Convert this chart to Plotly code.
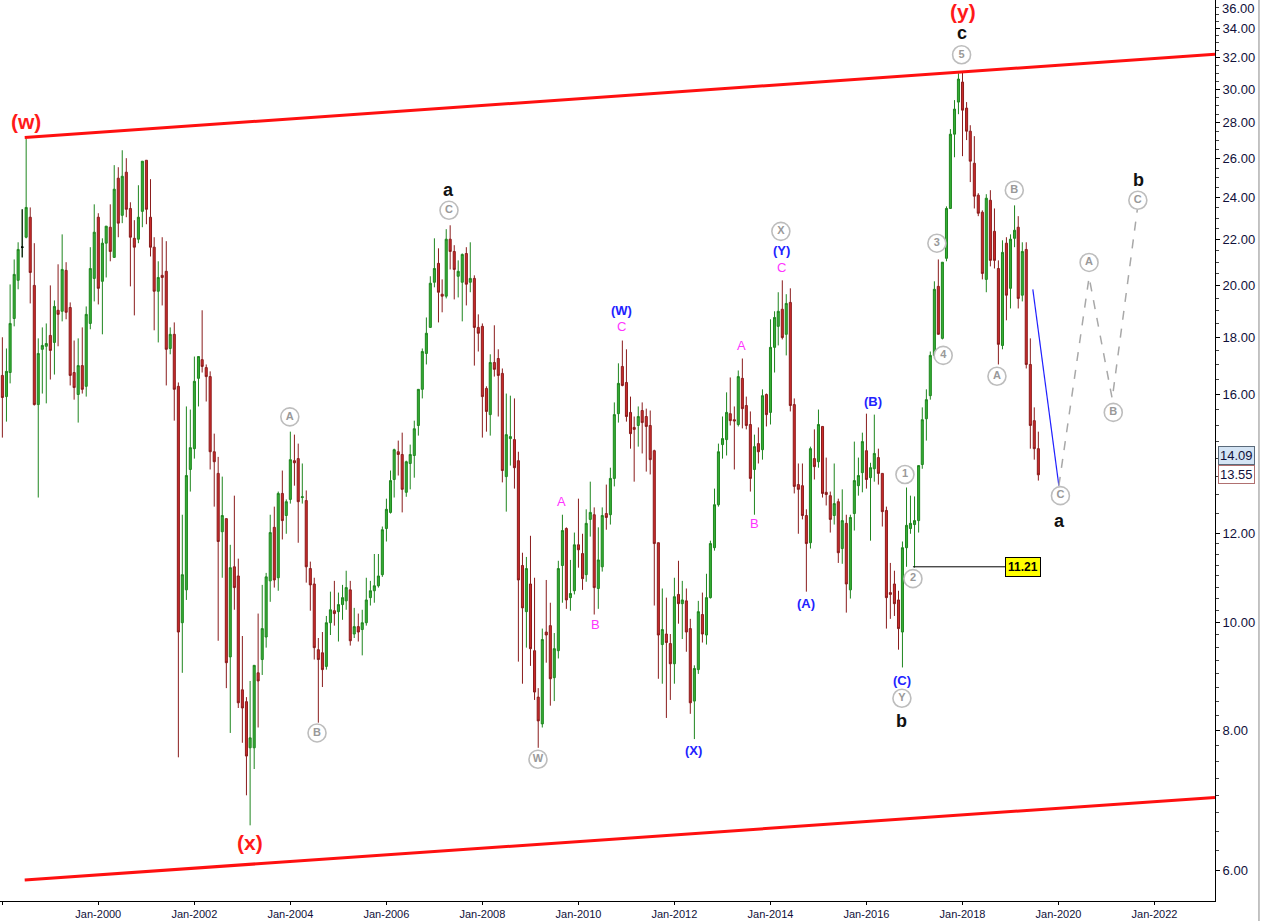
import math
import plotly.graph_objects as go
import pandas as pd

# Monthly candles, Jan-1998 .. Aug-2019
start_month = "1998-01-01"
opens = [16.63,15.92,16.73,18.70,20.23,21.66,22.11,23.04,20.02,15.66,17.55,17.66,
 18.06,17.80,19.02,18.98,20.65,19.13,16.73,15.99,16.97,16.26,18.51,20.31,
 23.04,20.19,21.84,22.57,21.21,24.97,23.13,25.28,23.46,22.06,22.02,23.32,
 25.91,23.04,21.66,19.78,20.44,20.61,17.58,18.10,16.26,9.99,10.69,13.70,
 14.30,16.53,17.18,16.90,16.59,14.21,13.59,12.05,12.38,9.31,11.21,11.00,
 8.70,8.49,7.72,7.72,9.01,9.26,9.70,10.89,12.16,10.96,13.04,12.46,
 12.88,13.95,14.01,12.93,12.85,11.17,10.82,9.45,9.39,9.13,9.99,10.24,
 10.22,10.37,10.45,10.69,9.76,9.91,9.85,9.99,10.52,10.67,10.78,11.03,
 12.13,12.54,13.42,14.21,14.13,13.07,13.87,14.10,15.00,16.16,17.40,18.36,
 20.15,20.95,19.66,19.58,22.02,21.47,20.40,20.15,21.38,20.15,20.31,18.36,
 18.40,16.19,15.34,17.08,17.22,16.70,13.50,14.60,14.57,13.95,11.24,10.22,
 10.82,9.43,8.57,8.11,9.80,9.93,8.92,9.43,11.24,12.13,10.52,10.67,
 11.73,11.52,11.03,12.36,12.48,10.72,11.21,12.51,12.48,13.45,15.37,16.94,
 16.39,15.41,14.94,15.00,15.47,15.28,15.00,14.24,11.78,9.55,9.76,9.57,
 9.18,10.59,10.39,10.45,9.87,8.50,9.07,10.16,9.74,10.52,11.66,12.74,
 14.42,14.57,15.37,15.18,15.03,16.53,15.63,15.03,13.70,14.45,14.27,15.99,
 15.41,17.62,18.40,19.06,18.10,19.33,15.66,13.28,13.25,12.46,11.78,14.01,
 13.92,14.97,13.07,12.98,12.46,12.82,11.64,12.26,10.69,12.51,13.25,13.61,
 14.24,13.47,13.72,14.04,13.59,12.59,10.63,10.82,10.47,9.80,11.66,12.13,
 12.23,12.33,13.84,15.21,15.95,17.33,19.98,17.95,21.17,23.46,27.34,29.21,
 30.44,28.85,27.51,25.75,24.11,23.28,20.27,23.86,22.38,20.73,17.69,21.84,
 19.90,22.06,22.57,19.62,21.56,17.01,15.15,14.30]
highs = [17.99,17.58,20.06,21.12,21.88,23.42,27.10,23.51,21.84,17.95,18.36,18.51,
 20.02,19.41,20.91,22.24,21.00,19.33,17.87,17.95,18.36,19.17,21.66,23.66,
 23.23,22.06,22.62,23.66,25.65,25.54,26.45,26.02,23.76,22.90,24.61,25.86,
 25.91,24.92,22.11,21.04,22.11,21.93,18.36,18.55,16.39,12.48,15.60,15.50,
 17.29,17.29,19.02,17.01,16.77,14.75,14.06,13.50,12.38,11.73,12.98,11.40,
 9.72,8.57,8.86,9.15,10.18,10.80,11.07,12.48,12.69,13.09,13.67,12.88,
 14.81,14.72,14.45,13.87,13.12,11.33,10.96,9.68,9.80,10.13,10.65,10.89,
 10.63,10.80,11.12,10.89,10.30,10.18,10.26,10.96,10.89,11.51,11.51,12.18,
 12.90,13.67,14.30,14.54,14.78,13.95,14.42,15.15,16.16,17.58,18.74,20.40,
 22.06,21.61,20.27,22.48,22.66,21.75,21.08,21.38,21.66,21.88,20.44,18.86,
 18.51,16.26,17.37,18.44,17.55,16.87,16.02,15.95,15.86,14.21,11.54,11.44,
 11.95,10.96,8.73,9.87,10.91,10.41,9.78,11.35,12.48,12.16,11.37,12.03,
 12.90,12.00,12.62,13.36,12.67,12.16,12.67,13.28,13.75,15.73,17.05,17.87,
 17.55,15.92,15.28,15.60,15.73,15.53,15.47,14.27,11.78,10.72,10.52,9.76,
 10.96,11.35,10.89,10.72,10.07,9.15,10.45,10.63,11.05,11.83,13.17,14.45,
 15.28,16.06,16.56,15.60,16.80,17.22,15.92,15.44,14.72,14.94,16.16,16.02,
 18.67,18.98,19.74,20.23,19.66,19.90,15.86,13.87,13.87,12.62,14.36,14.88,
 15.50,14.97,14.04,13.09,13.87,12.90,13.15,12.48,12.48,14.51,14.04,14.78,
 15.37,13.89,15.34,14.30,13.59,12.69,11.30,11.12,10.67,11.81,13.20,12.98,
 12.96,13.81,15.57,16.16,17.47,20.19,21.12,21.00,23.56,27.63,29.33,31.00,
 31.14,29.21,27.85,27.23,24.21,23.37,24.16,24.36,23.46,21.08,21.97,22.11,
 22.24,23.61,23.09,21.88,21.88,17.95,15.57,14.81]
lows = [14.63,15.12,16.36,18.40,19.86,21.21,22.06,19.29,15.63,12.93,16.02,15.70,
 16.49,16.66,17.66,18.59,18.67,16.29,15.82,15.09,16.02,15.92,18.29,19.37,
 19.25,18.10,20.35,21.04,21.21,22.11,22.76,23.04,19.98,18.82,21.84,22.57,
 22.71,21.25,18.25,17.80,19.21,16.29,17.37,15.15,7.57,9.01,10.47,13.09,
 14.01,15.60,16.73,15.76,13.70,12.69,9.625,10.96,8.73,7.96,10.26,8.38,
 7.80,7.00,6.58,7.39,8.05,8.97,9.49,10.43,10.74,10.67,11.86,12.00,
 12.77,13.25,11.78,12.77,10.85,10.24,9.26,8.13,8.75,9.07,9.74,9.93,
 9.61,10.05,10.26,9.53,9.68,9.61,9.34,9.93,10.35,10.41,10.74,10.98,
 11.81,12.51,12.93,13.53,12.54,12.95,13.15,13.47,14.69,15.86,17.01,18.36,
 19.94,18.55,18.94,19.49,20.69,19.45,19.53,18.59,19.21,19.74,16.97,17.47,
 14.63,14.81,14.69,16.59,15.28,13.34,12.56,13.81,13.17,9.22,8.81,9.49,
 9.14,8.52,7.72,8.05,9.20,8.42,8.50,9.28,10.41,10.28,10.24,10.59,
 11.19,10.69,10.87,11.93,10.16,10.28,11.10,12.10,12.23,13.23,15.09,16.26,
 15.12,14.30,13.36,14.36,14.16,13.64,13.56,10.35,8.90,8.81,8.21,8.52,
 8.81,9.97,9.66,9.41,8.28,7.86,8.99,9.59,9.55,10.50,11.59,12.69,
 14.01,14.10,15.00,13.70,14.97,14.91,14.88,13.09,12.48,13.87,13.98,14.97,
 15.03,16.73,17.69,17.91,17.33,15.44,13.04,12.00,12.36,10.65,11.64,13.42,
 13.75,12.93,12.72,12.03,12.23,11.30,11.28,10.20,10.50,12.08,12.98,13.07,
 13.17,11.83,13.36,13.28,12.18,9.87,10.07,10.13,9.45,9.11,11.21,12.00,
 11.19,12.03,13.72,14.54,15.82,17.22,18.10,17.91,21.04,23.46,26.07,28.49,
 26.13,27.01,24.77,23.46,23.09,20.27,19.74,20.82,20.73,17.01,17.55,18.63,
 19.09,21.66,19.09,19.37,16.87,14.30,13.98,13.39]
closes = [15.89,16.77,18.51,20.48,21.56,21.66,23.51,20.56,15.66,17.40,17.69,17.76,
 17.51,19.17,18.86,20.69,18.94,16.63,16.22,16.97,16.16,18.86,20.73,22.34,
 19.90,21.84,22.62,21.47,24.41,22.76,25.07,23.42,22.11,21.66,23.04,25.86,
 23.42,21.66,19.78,20.35,20.35,17.55,18.10,16.16,9.80,11.03,13.53,14.33,
 16.43,17.29,16.94,16.59,14.21,13.92,11.81,12.46,9.20,11.19,10.74,8.47,
 8.38,7.59,7.88,9.15,8.86,9.87,10.98,12.03,10.91,13.04,12.33,12.82,
 13.98,13.89,12.82,12.95,11.21,10.80,9.49,9.26,9.07,9.99,10.26,10.18,
 10.37,10.52,10.74,9.625,9.91,9.80,9.99,10.47,10.67,10.78,11.00,12.10,
 12.62,13.39,14.27,14.13,13.15,13.92,14.13,14.90,16.16,17.47,18.14,20.11,
 20.73,19.74,19.58,22.02,21.47,20.69,20.61,21.34,20.07,20.31,18.36,18.14,
 15.92,15.44,17.08,16.84,16.63,13.67,14.72,14.66,13.75,10.91,10.30,11.17,
 9.47,8.66,8.16,9.65,9.74,8.90,9.47,11.17,12.08,10.47,10.61,11.73,
 11.61,10.94,12.26,12.54,10.74,11.37,12.46,12.41,13.45,15.34,16.36,16.29,
 15.28,14.75,14.88,15.28,15.09,14.97,13.98,11.76,9.74,9.85,9.59,9.18,
 10.54,10.39,10.47,9.80,8.47,9.09,10.22,9.76,10.52,11.76,12.74,14.21,
 14.60,15.41,15.15,15.14,16.59,15.53,15.00,13.45,14.36,14.21,15.95,15.34,
 17.62,18.74,18.98,17.98,19.29,15.63,13.23,13.15,12.46,11.76,14.30,13.78,
 15.03,13.04,13.01,12.36,12.77,11.54,12.33,10.82,12.41,13.39,13.53,14.51,
 13.42,13.75,14.16,13.59,12.56,10.52,10.59,10.39,9.87,11.66,12.21,12.26,
 12.33,13.81,15.18,15.82,17.33,19.86,18.10,21.00,23.46,27.34,28.79,30.63,
 28.73,27.51,25.86,24.06,23.23,20.52,23.96,21.08,21.08,17.73,21.43,19.62,
 22.02,22.43,19.49,21.47,17.01,15.00,14.30,13.55]

dates = pd.date_range(start_month, periods=len(closes), freq="MS")

# Channel lines
channel_dates = ["1998-06-20", "2023-04-06"]
channel_upper = [27.15, 32.24]
channel_lower = [5.88, 6.97]

# Projected path
blue_dates = ["2019-06-20", "2020-01-04"]
blue_vals = [19.86, 13.25]
proj_dates = ["2020-01-04", "2020-08-21", "2021-02-13", "2021-08-27"]
proj_vals = [13.25, 20.36, 15.85, 23.6]

level_dates = ["2016-12-20", "2018-11-25"]
level_val = 11.21
tag_values = [14.09, 13.55]

# y-axis ticks
ytick_vals = [6, 8, 10, 12, 16, 18, 20, 22, 24, 26, 28, 30, 32, 34]
top_tick = 36
minor_vals = ([6 + 0.25 * k for k in range(24)] + [12 + 0.5 * k for k in range(48)])

# Circled wave labels (text, date, price)
circled = [
    ("5", "2017-12-25", 32.2), ("C", "2007-04-22", 23.37), ("A", "2003-12-28", 15.27),
    ("B", "2004-07-22", 7.96), ("W", "2009-02-27", 7.54), ("X", "2014-03-21", 22.38),
    ("Y", "2016-09-27", 8.55), ("1", "2016-10-20", 13.56), ("2", "2016-12-20", 10.94),
    ("3", "2017-06-20", 21.84), ("4", "2017-08-07", 17.33), ("B", "2019-01-30", 24.36),
    ("A", "2018-09-20", 16.60), ("C", "2020-01-16", 12.98), ("A", "2020-08-21", 20.99),
    ("B", "2021-02-21", 15.41), ("C", "2021-08-27", 23.86),
]
red_labels = [("(w)", "1998-06-28", 28.08), ("(x)", "2003-03-01", 6.35), ("(y)", "2018-01-05", 35.2)]
black_labels = [("c", "2017-12-30", 33.7), ("a", "2007-04-22", 24.36), ("b", "2016-09-27", 8.16),
                ("a", "2020-01-10", 12.33), ("b", "2021-08-30", 24.87)]
blue_labels = [("(W)", "2010-11-28", 19.02), ("(X)", "2012-05-22", 7.67), ("(Y)", "2014-03-25", 21.52),
               ("(A)", "2014-09-27", 10.39), ("(B)", "2016-02-19", 15.76), ("(C)", "2016-09-27", 8.86)]
magenta_labels = [("C", "2010-11-28", 18.40), ("A", "2009-08-27", 12.82), ("B", "2010-05-07", 9.95),
                  ("C", "2014-03-25", 20.78), ("A", "2013-05-29", 17.69), ("B", "2013-09-05", 12.26)]

FONT = "Liberation Sans, Arial, sans-serif"
TICKCOL = "#10103a"

fig = go.Figure()
fig.add_trace(go.Candlestick(
    x=dates, open=opens, high=highs, low=lows, close=closes,
    increasing=dict(line=dict(color="#1f861f", width=1), fillcolor="#36ad36"),
    decreasing=dict(line=dict(color="#8a1c1c", width=1), fillcolor="#cb2b2b"),
    whiskerwidth=0, hoverinfo="skip", showlegend=False))
# doji month drawn in black
fig.add_trace(go.Candlestick(
    x=[dates[5]], open=[opens[5]], high=[highs[5]], low=[lows[5]], close=[closes[5]],
    increasing=dict(line=dict(color="black", width=1), fillcolor="black"),
    decreasing=dict(line=dict(color="black", width=1), fillcolor="black"),
    hoverinfo="skip", showlegend=False))

for vals in (channel_upper, channel_lower):
    fig.add_trace(go.Scatter(x=channel_dates, y=vals, mode="lines",
                             line=dict(color="#ff1010", width=3), hoverinfo="skip", showlegend=False))
fig.add_trace(go.Scatter(x=blue_dates, y=blue_vals, mode="lines",
                         line=dict(color="#2020ff", width=1.2), hoverinfo="skip", showlegend=False))
fig.add_trace(go.Scatter(x=proj_dates, y=proj_vals, mode="lines",
                         line=dict(color="#a8a8a8", width=1.5, dash="dash"), hoverinfo="skip", showlegend=False))
fig.add_trace(go.Scatter(x=level_dates, y=[level_val, level_val], mode="lines",
                         line=dict(color="black", width=1), hoverinfo="skip", showlegend=False))

fig.add_trace(go.Scatter(
    x=[c[1] for c in circled], y=[c[2] for c in circled], text=[f"<b>{c[0]}</b>" for c in circled],
    mode="markers+text", textposition="middle center",
    marker=dict(symbol="circle", size=18, color="white", line=dict(color="#bdbdbd", width=1.6)),
    textfont=dict(family=FONT, size=11, color="#999999"),
    hoverinfo="skip", showlegend=False))

ann = []
def add_labels(items, size, color, bold=True):
    for t, d, v in items:
        ann.append(dict(x=d, y=math.log10(v), xref="x", yref="y", text=f"<b>{t}</b>" if bold else t,
                        showarrow=False, font=dict(family=FONT, size=size, color=color)))
add_labels(red_labels, 21, "#ff1a1a")
add_labels(black_labels, 18, "#111111")
add_labels(blue_labels, 13, "#2222ff")
add_labels(magenta_labels, 13, "#ff33ff", bold=False)

ann.append(dict(x="2019-04-06", y=math.log10(level_val), xref="x", yref="y", text="<b>11.21</b>", showarrow=False,
                bgcolor="#ffff00", bordercolor="black", borderwidth=1, borderpad=2,
                font=dict(family=FONT, size=12, color="black")))
ann.append(dict(x=1.0, y=math.log10(tag_values[0]), xref="paper", yref="y", xanchor="left", xshift=3,
                text=f"{tag_values[0]:.2f}", showarrow=False,
                bgcolor="#d4e4f4", bordercolor="#5a6a7a", borderwidth=1, borderpad=1,
                font=dict(family=FONT, size=13, color=TICKCOL)))
ann.append(dict(x=1.0, y=math.log10(tag_values[1]), xref="paper", yref="y", xanchor="left", xshift=3,
                text=f"{tag_values[1]:.2f}", showarrow=False,
                bgcolor="white", bordercolor="#b07070", borderwidth=1, borderpad=1,
                font=dict(family=FONT, size=13, color=TICKCOL)))
# top tick label, nudged down so it is fully visible
ann.append(dict(x=1.0, y=1.0, xref="paper", yref="paper", xanchor="left", yanchor="top", xshift=5, yshift=1,
                text=f"{top_tick:.2f}", showarrow=False,
                font=dict(family=FONT, size=13, color=TICKCOL)))

fig.update_layout(
    width=1261, height=921, margin=dict(l=0, r=46, t=0, b=20, autoexpand=False),
    paper_bgcolor="white", plot_bgcolor="white", annotations=ann,
    boxgap=0.2, hovermode=False,
    shapes=[dict(type="line", xref="paper", yref="paper", x0=1.0362, x1=1.0362, y0=-0.03, y1=1,
                 line=dict(color="#888888", width=1)),
            dict(type="line", xref="paper", yref="y", x0=1.0, x1=1.004,
                 y0=math.log10(top_tick), y1=math.log10(top_tick), line=dict(color="black", width=1))],
)
fig.update_xaxes(
    type="date", range=["1997-12-14", "2023-04-06"], rangeslider=dict(visible=False),
    tickformat="%b-%Y", dtick="M24", tick0="2000-01-01", ticks="outside", ticklen=3,
    tickcolor="black", showline=True, linecolor="black", linewidth=1, showgrid=False,
    automargin=False,
    tickfont=dict(family="Liberation Sans Narrow, Liberation Sans, Arial", size=11, color=TICKCOL),
)
fig.update_yaxes(
    type="log", side="right", range=[0.7505, 1.5569], tickvals=ytick_vals,
    ticktext=[f"{v:.2f}" for v in ytick_vals], ticks="outside", ticklen=4, tickcolor="black",
    showline=True, linecolor="black", linewidth=1, showgrid=False, zeroline=False,
    automargin=False,
    minor=dict(ticks="outside", ticklen=3, tickcolor="#444444", tickvals=minor_vals),
    tickfont=dict(family=FONT, size=13, color=TICKCOL),
)

fig.write_html("out.html", config={"displayModeBar": False},
               post_script="document.body.style.margin='0';document.body.style.overflow='hidden';")
